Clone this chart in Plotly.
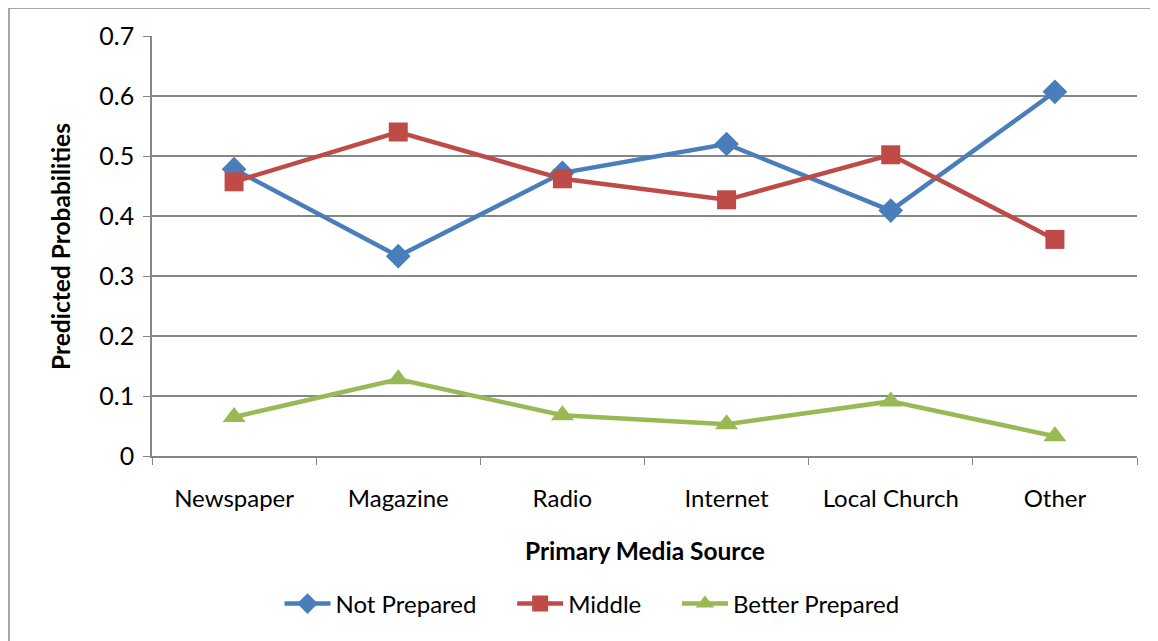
import plotly.graph_objects as go

# Chart data
categories = ["Newspaper", "Magazine", "Radio", "Internet", "Local Church", "Other"]
not_prepared = [0.478, 0.333, 0.472, 0.520, 0.409, 0.607]
middle = [0.457, 0.540, 0.462, 0.427, 0.502, 0.361]
better_prepared = [0.065, 0.128, 0.068, 0.053, 0.091, 0.033]
y_ticks = [0, 0.1, 0.2, 0.3, 0.4, 0.5, 0.6, 0.7]
y_labels = ["0", "0.1", "0.2", "0.3", "0.4", "0.5", "0.6", "0.7"]

# page body has an 8px margin, so work in shifted coordinates
OFF = 8
W, H = 1158 - OFF, 641 - OFF
L, T = 152 - OFF, 36 - OFF
R = W - (1137 - OFF)
B = H - (456 - OFF)
pw, ph = W - L - R, H - T - B

fnt = "Lato, Calibri, 'Open Sans', sans-serif"
pad = "\u00a0" * 5

fig = go.Figure()
fig.add_trace(go.Scatter(
    x=categories, y=not_prepared, name="Not Prepared" + pad, mode="lines+markers",
    line=dict(color="#4a7ebb", width=4.5),
    marker=dict(symbol="diamond", size=19, color="#4a7ebb")
))
fig.add_trace(go.Scatter(
    x=categories, y=middle, name="Middle" + pad, mode="lines+markers",
    line=dict(color="#be4b48", width=4.5),
    marker=dict(symbol="square", size=19, color="#be4b48")
))
fig.add_trace(go.Scatter(
    x=categories, y=better_prepared, name="Better Prepared", mode="lines+markers",
    line=dict(color="#98b954", width=4.5),
    marker=dict(symbol="triangle-up", size=20, color="#98b954")
))

fig.update_layout(
    width=W, height=H,
    margin=dict(l=L, r=R, t=T, b=B, autoexpand=False),
    paper_bgcolor="white", plot_bgcolor="white",
    font=dict(family=fnt, color="black", size=24),
    showlegend=True,
    legend=dict(orientation="h", x=(592 - 152) / pw, xanchor="center",
                y=-(604 - 456) / ph, yanchor="middle",
                font=dict(size=24), tracegroupgap=0, itemwidth=46),
    xaxis=dict(
        type="category", range=[-0.5, 5.5],
        showgrid=False, showline=True, linecolor="#868686", linewidth=1.5,
        ticks="outside", tickson="boundaries", ticklen=7, tickcolor="#868686",
        tickfont=dict(size=24), ticklabelstandoff=20,
    ),
    yaxis=dict(
        range=[0, 0.7], tickvals=y_ticks, ticktext=y_labels,
        showgrid=True, gridcolor="#868686", gridwidth=1.5,
        showline=True, linecolor="#868686", linewidth=1.5,
        ticks="outside", ticklen=7, tickcolor="#868686",
        tickfont=dict(size=25), zeroline=False, ticklabelstandoff=4,
    ),
    annotations=[
        dict(text="<b>Primary Media Source</b>", xref="paper", yref="paper",
             x=(645 - 152) / pw, y=-(550 - 456) / ph, xanchor="center", yanchor="middle",
             showarrow=False, font=dict(size=24.5)),
        dict(text="<b>Predicted Probabilities</b>", xref="paper", yref="paper",
             x=(60 - 152) / pw, y=(456 - 247) / ph, xanchor="center", yanchor="middle",
             textangle=-90, showarrow=False, font=dict(size=24.5)),
    ],
    shapes=[
        dict(type="rect", xref="paper", yref="paper",
             x0=(1 - L) / pw, x1=(W + 5 - L) / pw,
             y0=-(H + 5 - T - ph) / ph, y1=(ph + T - 0) / ph,
             line=dict(color="#8c8c8c", width=1.5), layer="below"),
    ],
)

fig.write_html("out.html")
